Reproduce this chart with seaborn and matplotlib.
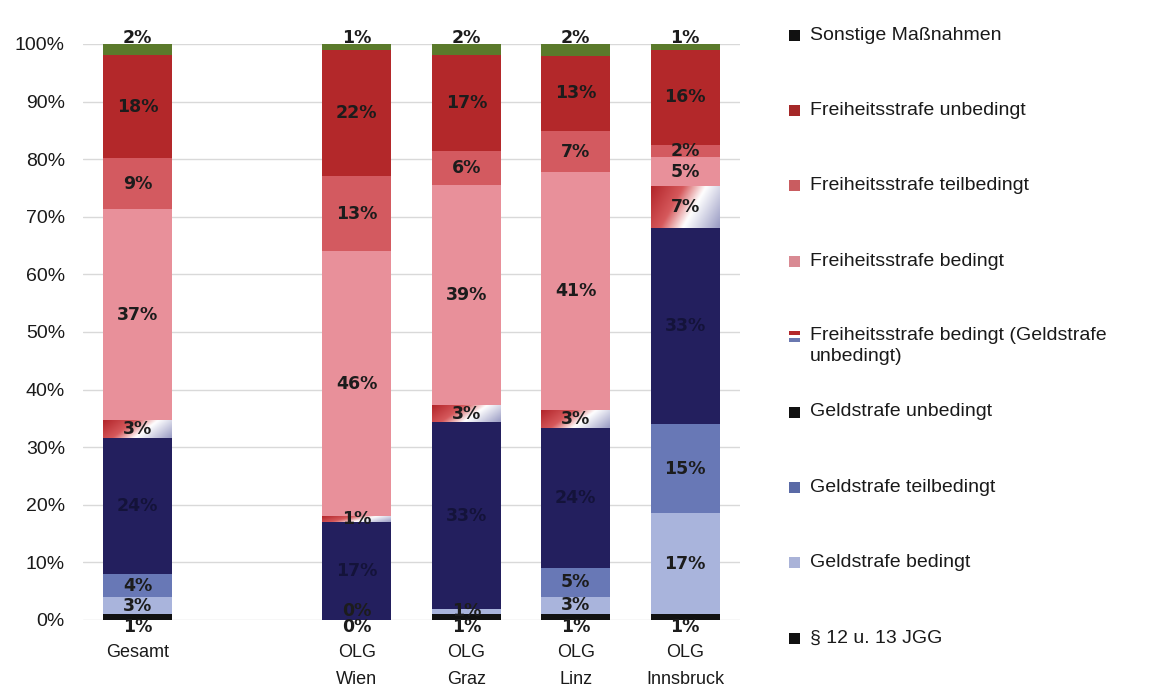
import numpy as np
import pandas as pd
import matplotlib
matplotlib.use('Agg')
import matplotlib.pyplot as plt
import seaborn as sns
from matplotlib.colors import LinearSegmentedColormap
from matplotlib.patches import Rectangle
from matplotlib.ticker import PercentFormatter


# Sanktionen nach OLG-Sprengel, 100% gestapelt (Werte in %, wie beschriftet)

regions = ['Gesamt', 'OLG\nWien', 'OLG\nGraz', 'OLG\nLinz', 'OLG\nInnsbruck']
order = ['Gesamt', ' ', 'OLG\nWien', 'OLG\nGraz', 'OLG\nLinz', 'OLG\nInnsbruck']

jgg = [1, 0, 1, 1, 1]
gs_bedingt = [3, 0, 1, 3, 17]
gs_teilbedingt = [4, np.nan, np.nan, 5, 15]
gs_unbedingt = [24, 17, 33, 24, 33]
fs_bedingt_gs = [3, 1, 3, 3, 7]
fs_bedingt = [37, 46, 39, 41, 5]
fs_teilbedingt = [9, 13, 6, 7, 2]
fs_unbedingt = [18, 22, 17, 13, 16]
sonstige = [2, 1, 2, 2, 1]

names = ['§ 12 u. 13 JGG', 'Geldstrafe bedingt', 'Geldstrafe teilbedingt',
         'Geldstrafe unbedingt', 'Freiheitsstrafe bedingt (Geldstrafe\nunbedingt)',
         'Freiheitsstrafe bedingt', 'Freiheitsstrafe teilbedingt',
         'Freiheitsstrafe unbedingt', 'Sonstige Maßnahmen']
series = [jgg, gs_bedingt, gs_teilbedingt, gs_unbedingt, fs_bedingt_gs,
          fs_bedingt, fs_teilbedingt, fs_unbedingt, sonstige]

bar_colors = ['#111111', '#a9b4dc', '#6878b6', '#231f5e', '#ffffff',
              '#e8909a', '#d35a60', '#b3282a', '#5b7a2b']
legend_colors = ['#111111', '#aab3d8', '#5a6aa6', '#111111', None,
                 '#d98a93', '#c95c60', '#a52828', '#111111']
GRAD = names[4]

raw = pd.DataFrame(dict(zip(names, series)), index=regions)
shares = raw.fillna(0).div(raw.fillna(0).sum(axis=1), axis=0) * 100
tops = shares.cumsum(axis=1)
bottoms = tops - shares

sns.set_theme(style='whitegrid')
plt.rcParams['font.family'] = ['Liberation Sans', 'DejaVu Sans']

W, H = 1162, 690
fig = plt.figure(figsize=(W / 100, H / 100), dpi=100)
ax = fig.add_axes([83 / W, 70 / H, 657 / W, 576 / H])

grad_cmap = LinearSegmentedColormap.from_list(
    'grad', [(0, '#b3262b'), (0.35, '#d6595c'), (0.6, '#ffffff'), (1, '#9a9cc4')])
gx, gy = np.meshgrid(np.linspace(0, 1, 60), np.linspace(0, 1, 20))
grad = 0.75 * gx + 0.25 * (1 - gy)

# classic seaborn stacking: draw cumulative totals from the top layer down
for name, color in zip(reversed(names), reversed(bar_colors)):
    layer = pd.DataFrame({'region': regions, 'top': tops[name].values})
    n_before = len(ax.patches)
    sns.barplot(data=layer, x='region', y='top', order=order, color=color,
                saturation=1, width=0.63, errorbar=None, linewidth=0, ax=ax)
    if name == GRAD:
        for p in ax.patches[n_before:]:
            pos = int(round(p.get_x() + p.get_width() / 2))
            reg = order[pos]
            ax.imshow(grad, cmap=grad_cmap, origin='lower', aspect='auto',
                      interpolation='bicubic', zorder=1,
                      extent=(p.get_x(), p.get_x() + p.get_width(),
                              bottoms.loc[reg, name], tops.loc[reg, name]))

# segment labels
for name in names:
    for reg in regions:
        v = raw.loc[reg, name]
        if np.isnan(v):
            continue
        y = (bottoms.loc[reg, name] + tops.loc[reg, name]) / 2
        if name == names[0]:
            y = -1.2
        elif name == names[1]:
            y = max(y, 1.6)
        elif name == names[-1]:
            y = 101.0
        col = '#14133a' if name == names[3] else '#1c1c1c'
        ax.text(order.index(reg), y, f'{int(v)}%', ha='center', va='center',
                fontsize=12.5, fontweight='bold', color=col,
                family=['DejaVu Sans'], zorder=5)

ax.set_xlim(-0.5, 5.5)
ax.set_ylim(0, 100)
ax.set_yticks(range(0, 101, 10))
ax.yaxis.set_major_formatter(PercentFormatter(xmax=100, decimals=0))
ax.set_xlabel('')
ax.set_ylabel('')
ax.grid(axis='x', visible=False)
ax.grid(axis='y', color='#d9d9d9', linewidth=1)
ax.set_axisbelow(True)
for s in ax.spines.values():
    s.set_visible(False)
ax.tick_params(axis='y', labelsize=14, pad=13, colors='#1a1a1a', length=0)
ax.tick_params(axis='x', labelsize=13, pad=17, colors='#1a1a1a', length=0)
for lbl in ax.get_xticklabels():
    lbl.set_linespacing(1.8)

# legend on the right, top entry = top layer
for i, (name, col) in enumerate(zip(reversed(names), reversed(legend_colors))):
    yc = 35 + i * 75.4
    sq = 11
    if col is None:
        for k, c in enumerate(['#b3282a', '#ffffff', '#6a78b0']):
            fig.add_artist(Rectangle((789 / W, 1 - (yc - sq / 2 + (k + 1) * sq / 3) / H),
                                     sq / W, (sq / 3) / H, transform=fig.transFigure,
                                     facecolor=c, edgecolor='none'))
        fig.text(810 / W, 1 - (yc - 10) / H, name, va='top', ha='left',
                 fontsize=14, color='#1a1a1a', linespacing=1.35)
    else:
        fig.add_artist(Rectangle((789 / W, 1 - (yc + sq / 2) / H), sq / W, sq / H,
                                 transform=fig.transFigure, facecolor=col,
                                 edgecolor='none'))
        fig.text(810 / W, 1 - yc / H, name, va='center', ha='left',
                 fontsize=14, color='#1a1a1a')

fig.savefig('out.png', dpi=100, facecolor='white')
